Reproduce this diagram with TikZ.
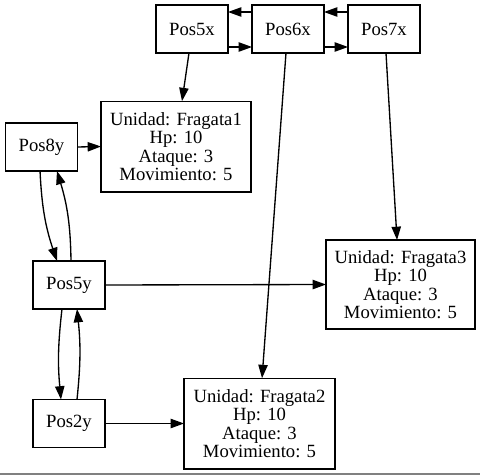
\documentclass[tikz,border=0pt]{standalone}
\usepackage{fontspec}
\setmainfont{Liberation Serif}
\usepackage{tikz}
\usetikzlibrary{shapes,arrows,positioning,calc,arrows.meta}

\begin{document}
\begin{tikzpicture}[x=0.75pt, y=-0.75pt, outer sep=0pt,
    posbox/.style={draw, rectangle, line width=1pt, minimum width=54pt, minimum height=36pt, inner sep=0pt, font=\fontsize{14}{14}\selectfont},
    unitbox/.style={draw, rectangle, line width=1pt, minimum width=112.5pt, minimum height=68pt, inner sep=0pt, align=center, font=\fontsize{14}{13.75}\selectfont},
    link/.style={line width=1pt, -{Triangle[length=10pt, width=7pt]}}]
    \useasboundingbox (0,0) rectangle (480,475);
    \node [posbox] (p5x) at (192,29) {Pos5x};
    \node [posbox] (p6x) at (288,29) {Pos6x};
    \node [posbox] (p7x) at (384,29) {Pos7x};
    \node [posbox] (p8y) at (41.5,147) {Pos8y};
    \node [posbox] (p5y) at (69,285) {Pos5y};
    \node [posbox] (p2y) at (69,423.5) {Pos2y};
    \node [unitbox] (f1) at (176,146.5) {Unidad: Fragata1\\Hp: 10\\Ataque: 3\\Movimiento: 5};
    \node [unitbox, minimum width=113.25pt] (f2) at (259.5,423.5) {Unidad: Fragata2\\Hp: 10\\Ataque: 3\\Movimiento: 5};
    \node [unitbox, minimum width=111.75pt, minimum height=66.75pt] (f3) at (400.5,284.5) {Unidad: Fragata3\\Hp: 10\\Ataque: 3\\Movimiento: 5};
    \draw [link] ([yshift=12.75pt]p6x.west) -- ([yshift=12.75pt]p5x.east);
    \draw [link] ([yshift=-13.5pt]p5x.east) -- ([yshift=-13.5pt]p6x.west);
    \draw [link] ([yshift=12.75pt]p7x.west) -- ([yshift=12.75pt]p6x.east);
    \draw [link] ([yshift=-13.5pt]p6x.east) -- ([yshift=-13.5pt]p7x.west);
    \draw [link] ([xshift=-2.25pt]p5x.south) -- ([xshift=4.5pt]f1.north);
    \draw [link] ([xshift=-1.5pt]p6x.south) -- ([xshift=1.9pt]f2.north);
    \draw [link] ([xshift=1.5pt]p7x.south) -- ([xshift=-2.6pt]f3.north);
    \draw [link] (p8y.east) -- (f1.west);
    \draw [link] ([xshift=-1.1pt]p8y.south) to[bend right=8] ([xshift=-9pt]p5y.north);
    \draw [link] ([xshift=1.5pt]p5y.north) to[bend right=8] ([xshift=11.6pt]p8y.south);
    \draw [link] (p5y.east) -- (f3.west);
    \draw [link] ([xshift=-5.25pt]p5y.south) to[bend right=6] ([xshift=-6pt]p2y.north);
    \draw [link] ([xshift=6pt]p2y.north) to[bend right=6] ([xshift=6pt]p5y.south);
    \draw [link] (p2y.east) -- (f2.west);
    \draw [gray, line width=1pt] (0,474) -- (480,474);
\end{tikzpicture}
\end{document}
